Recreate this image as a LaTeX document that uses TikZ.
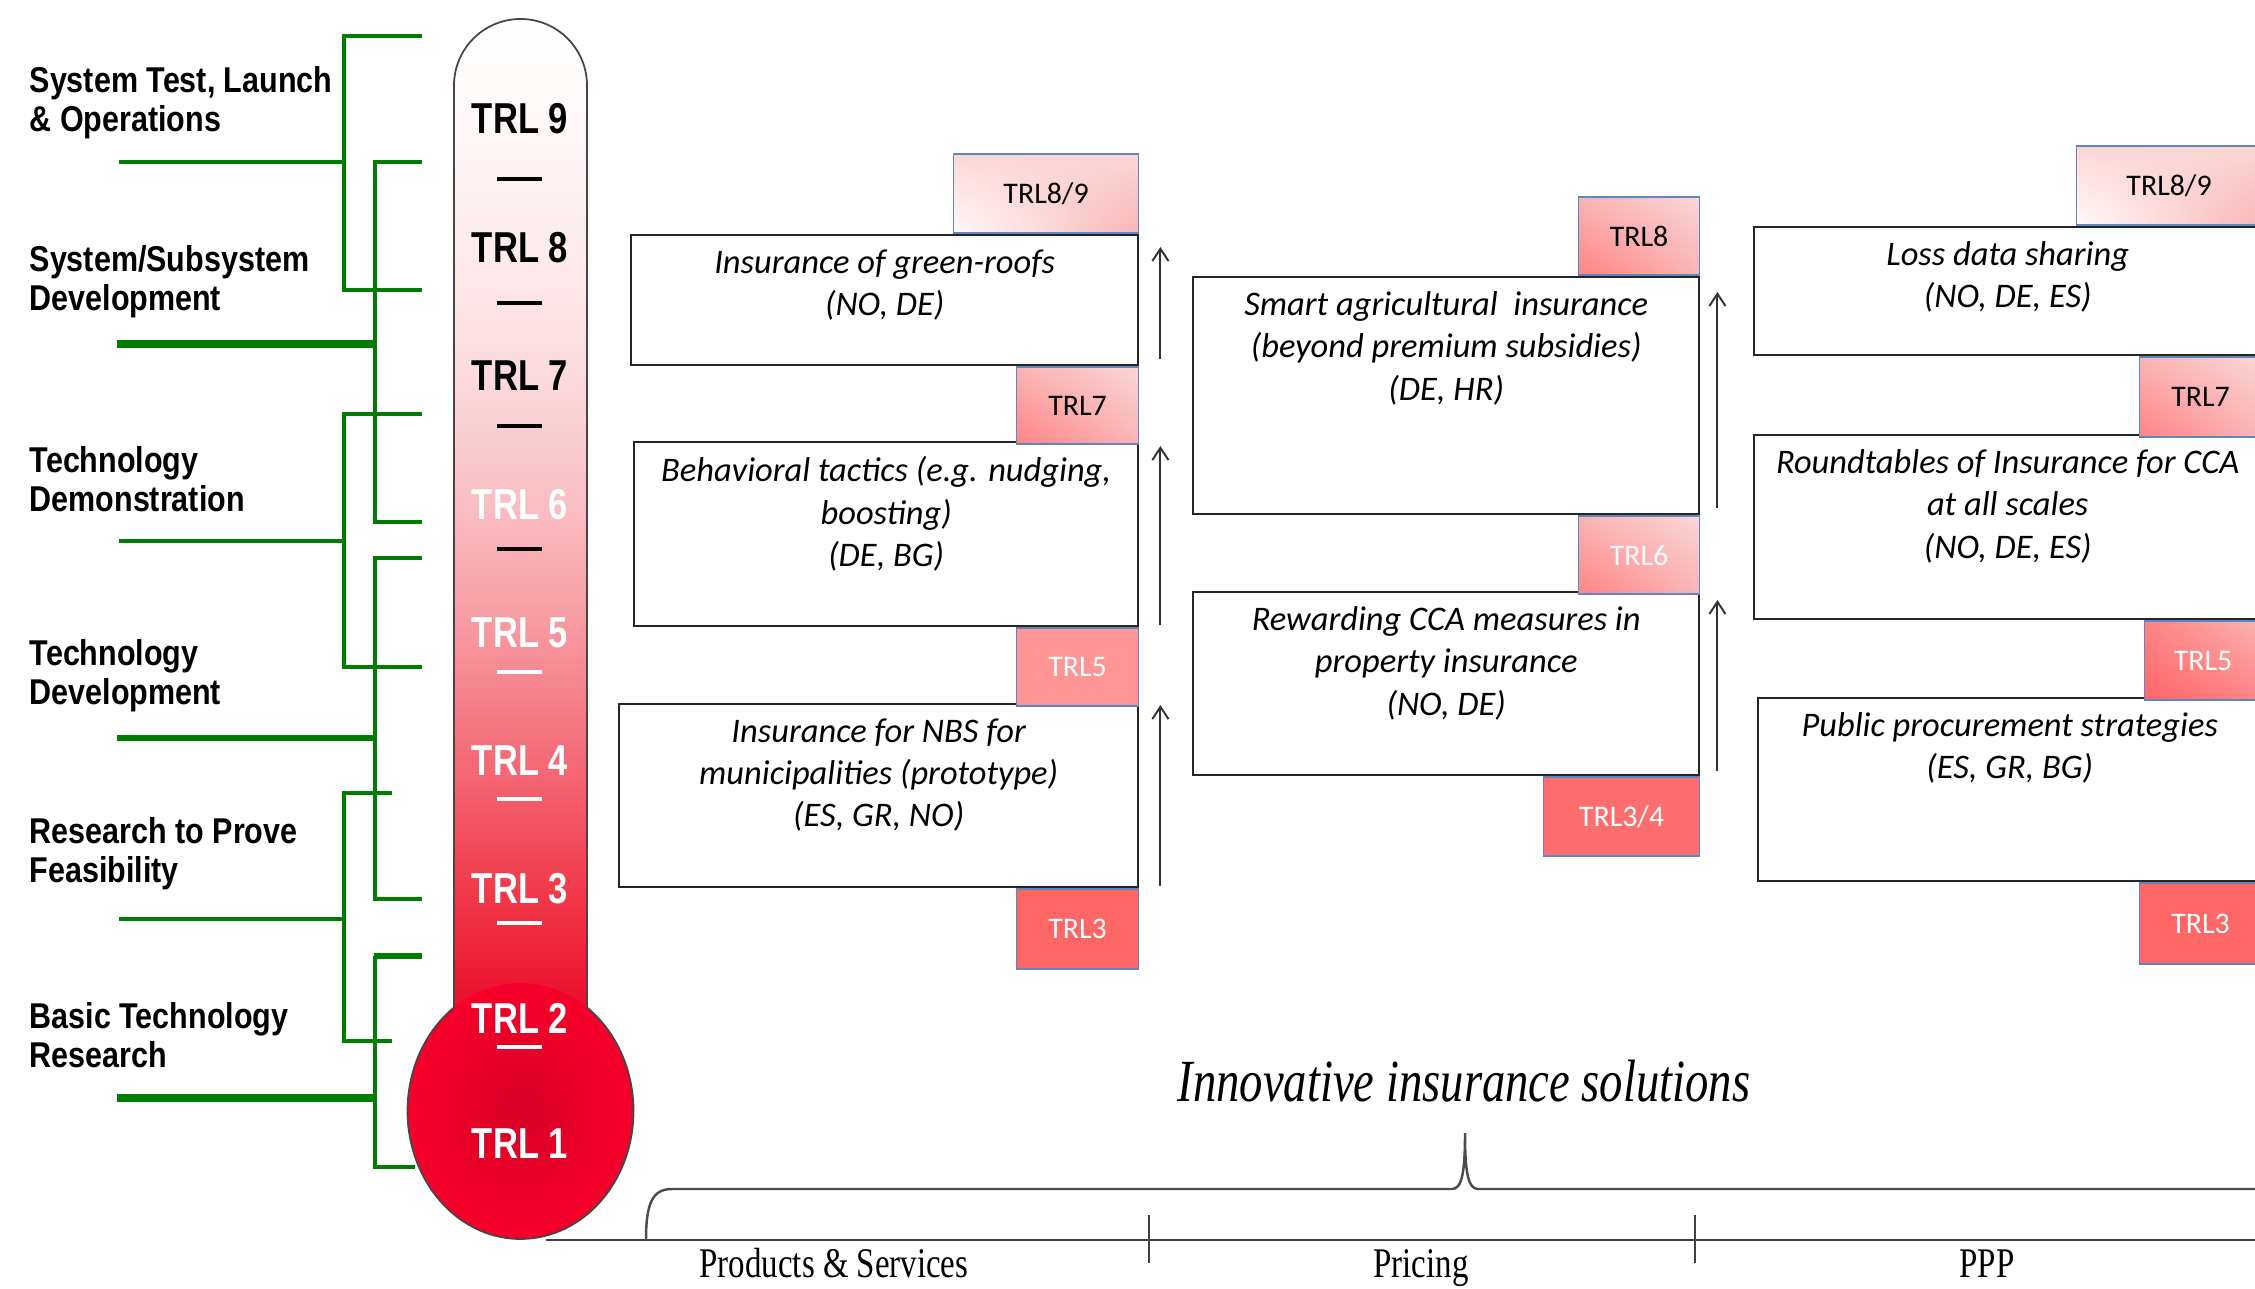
\documentclass[tikz,border=0pt]{standalone}
\usepackage{fontspec}
\usetikzlibrary{arrows.meta}
\usetikzlibrary{positioning}
\usetikzlibrary{shadings}

\newfontfamily\stagefont{Liberation Sans}[FakeStretch=0.85]
\newfontfamily\trlfont{Liberation Sans}[FakeStretch=0.8]
\newfontfamily\boxfont{Carlito}
\newfontfamily\axisfont{Liberation Serif}[FakeStretch=0.78]

\definecolor{trlgreen}{RGB}{0,125,0}
\definecolor{tagblue}{RGB}{95,135,190}
\definecolor{thermogray}{RGB}{70,70,70}
\definecolor{bulbin}{RGB}{216,0,36}
\definecolor{bulbout}{RGB}{246,0,42}
\definecolor{tubeA}{RGB}{234,14,42}
\definecolor{tubeB}{RGB}{238,32,54}
\definecolor{tubeC}{RGB}{240,58,74}
\definecolor{tubeD}{RGB}{244,106,118}
\definecolor{tubeE}{RGB}{247,151,159}
\definecolor{tubeF}{RGB}{249,190,195}
\definecolor{tubeG}{RGB}{251,218,221}
\definecolor{tubeH}{RGB}{253,236,238}
\definecolor{tubeI}{RGB}{255,248,248}
\definecolor{tagwhite}{RGB}{255,250,250}
\definecolor{tagpale}{RGB}{252,214,214}
\definecolor{tagpink}{RGB}{249,180,182}
\definecolor{tagrose}{RGB}{255,132,132}
\definecolor{tagmid}{RGB}{255,149,149}
\definecolor{tagred}{RGB}{255,102,102}
\definecolor{tagredB}{RGB}{255,110,110}

\pgfdeclareverticalshading{tubeshade}{100bp}{color(0bp)=(tubeA); color(25bp)=(tubeA);
  color(27.5bp)=(tubeB); color(31bp)=(tubeC); color(37.5bp)=(tubeD); color(44bp)=(tubeE);
  color(50.5bp)=(tubeF); color(57bp)=(tubeG); color(63.5bp)=(tubeH); color(70bp)=(tubeI);
  color(75bp)=(white); color(100bp)=(white)}

\begin{document}
\begin{tikzpicture}[x=0.01cm, y=-0.01cm,
    every node/.style={inner sep=0pt},
    stage/.style={font=\stagefont\bfseries\fontsize{10.2}{11.1}\selectfont, align=left, anchor=west},
    trl/.style={font=\trlfont\bfseries\fontsize{12.3}{14}\selectfont},
    dashmark/.style={line width=1.1pt},
    bracket/.style={trlgreen, line width=1.2pt},
    thickbracket/.style={trlgreen, line width=2.1pt},
    prodbox/.style={draw=black!85, line width=0.6pt, anchor=north west},
    boxtext/.style={font=\boxfont\itshape\fontsize{9.8}{12}\selectfont, align=center},
    tag/.style={draw=tagblue, line width=0.45pt, font=\boxfont\fontsize{8.5}{10}\selectfont},
    uparrow/.style={black!80, line width=0.55pt, -{Straight Barb[length=3.5pt, width=4.6pt]}},
    axisline/.style={black!75, line width=0.6pt},
    axislabel/.style={font=\axisfont\fontsize{12}{14}\selectfont, anchor=base}]

  \useasboundingbox (0,0) rectangle (2255,1289);
  \clip (0,0) rectangle (2255,1289);

  % thermometer
  \shade[shading=tubeshade] (454,1010) -- (454,85.5) arc[start angle=180, end angle=360, radius=66.5] -- (587,1010) -- cycle;
  \shade[inner color=bulbin, outer color=bulbout] (520.5,1111) ellipse[x radius=113, y radius=128];
  \draw[thermogray, line width=0.5pt] (454,1007.5) -- (454,85.5) arc[start angle=180, end angle=360, radius=66.5]
    -- (587,1007.5) arc[start angle=-53.95, end angle=233.95, x radius=113, y radius=128];

  \foreach \n/\y/\c in {9/119/black, 8/248/black, 7/376/black, 6/505/white, 5/633/white,
                        4/761/white, 3/889/white, 2/1018/white, 1/1144/white}
    \node[trl, text=\c] (trl\n) at (520,\y) {TRL \n};
  \foreach \y/\c in {179/black, 303/black, 426/black, 549/black, 672/white, 799/white, 923/white, 1047/white}
    \draw[dashmark, \c] (497,\y) -- (542,\y);

  % green brackets
  \draw[bracket] (422,36) -- (344,36) -- (344,290) -- (422,290);
  \draw[bracket] (119,162) -- (344,162);
  \draw[bracket] (422,162) -- (375,162) -- (375,522) -- (422,522);
  \draw[thickbracket] (117,344) -- (375,344);
  \draw[bracket] (422,414) -- (344,414) -- (344,667) -- (422,667);
  \draw[bracket] (119,541) -- (344,541);
  \draw[bracket] (422,558) -- (375,558) -- (375,899) -- (422,899);
  \draw[bracket, line width=1.6pt] (117,738) -- (375,738);
  \draw[bracket] (392,793) -- (344,793) -- (344,1041) -- (392,1041);
  \draw[bracket] (119,919) -- (344,919);
  \draw[bracket] (375,956) -- (375,1167) -- (415,1167);
  \draw[bracket, line width=1.7pt] (374,956) -- (422,956);
  \draw[thickbracket] (117,1098) -- (375,1098);

  \node[stage] (st9) at (29,103) {System Test, Launch\\\& Operations};
  \node[stage] (st8) at (29,282) {System/Subsystem\\Development};
  \node[stage] (st6) at (29,479) {Technology\\Demonstration};
  \node[stage] (st4) at (29,676) {Technology\\Development};
  \node[stage] (st3) at (29,854) {Research to Prove\\Feasibility};
  \node[stage] (st1) at (29,1035) {Basic Technology\\Research};

  % products & services
  \node[prodbox, minimum width=5.07cm, minimum height=1.30cm] (b1) at (630,234) {};
  \node[prodbox, minimum width=5.04cm, minimum height=1.84cm] (b2) at (633,441) {};
  \node[prodbox, minimum width=5.19cm, minimum height=1.83cm] (b3) at (618,703) {};
  \node[boxtext, below=0.15cm of b1.north] (b1t) {Insurance of green-roofs\\(NO, DE)};
  \node[boxtext, below=0.15cm of b2.north] (b2t) {Behavioral tactics (e.g. nudging,\\boosting)\\(DE, BG)};
  \node[boxtext, below=0.15cm of b3.north] (b3t) {Insurance for NBS for\\municipalities (prototype)\\(ES, GR, NO)};
  \node[tag, anchor=south east, minimum width=1.85cm, minimum height=0.79cm,
        lower left=tagwhite, upper left=tagpale, lower right=tagpink, upper right=tagpale] (c1t9) at (b1.north east) {TRL8/9};
  \node[tag, anchor=north east, minimum width=1.22cm, minimum height=0.77cm,
        lower left=tagrose, upper left=tagpink, lower right=tagpink, upper right=tagpale] (c1t7) at (b1.south east) {TRL7};
  \node[tag, anchor=north east, minimum width=1.22cm, minimum height=0.78cm, fill=tagmid, text=white] (c1t5) at (b2.south east) {TRL5};
  \node[tag, anchor=north east, minimum width=1.22cm, minimum height=0.80cm, fill=tagred, text=white] (c1t3) at (b3.south east) {TRL3};
  \draw[uparrow] ([shift={(21,-7)}]b1.south east) -- ([shift={(21,13)}]b1.north east);
  \draw[uparrow] ([shift={(21,-2)}]b2.south east) -- ([shift={(21,5)}]b2.north east);
  \draw[uparrow] ([shift={(21,-2)}]b3.south east) -- ([shift={(21,2)}]b3.north east);

  % pricing
  \node[prodbox, minimum width=5.06cm, minimum height=2.37cm] (b4) at (1192,276) {};
  \node[prodbox, minimum width=5.06cm, minimum height=1.83cm] (b5) at (1192,591) {};
  \node[boxtext, below=0.15cm of b4.north] (b4t) {Smart agricultural\ \ insurance\\(beyond premium subsidies)\\(DE, HR)};
  \node[boxtext, below=0.15cm of b5.north] (b5t) {Rewarding CCA measures in\\property insurance\\(NO, DE)};
  \node[tag, anchor=south east, minimum width=1.21cm, minimum height=0.78cm,
        lower left=tagrose, upper left=tagpink, lower right=tagpink, upper right=tagpale] (c2t8) at (b4.north east) {TRL8};
  \node[tag, anchor=north east, minimum width=1.21cm, minimum height=0.78cm, text=tagwhite,
        lower left=tagrose, upper left=tagpink, lower right=tagpink, upper right=tagpale] (c2t6) at (b4.south east) {TRL6};
  \node[tag, anchor=north east, minimum width=1.56cm, minimum height=0.79cm, fill=tagredB, text=white] (c2t34) at (b5.south east) {TRL3/4};
  \draw[uparrow] ([shift={(17,-7)}]b4.south east) -- ([shift={(17,16)}]b4.north east);
  \draw[uparrow] ([shift={(17,-5)}]b5.south east) -- ([shift={(17,9)}]b5.north east);

  % PPP
  \node[prodbox, minimum width=5.07cm, minimum height=1.28cm] (b6) at (1753,226) {};
  \node[prodbox, minimum width=5.07cm, minimum height=1.84cm] (b7) at (1753,434) {};
  \node[prodbox, minimum width=5.03cm, minimum height=1.83cm] (b8) at (1757,697) {};
  \node[boxtext, below=0.15cm of b6.north] (b6t) {Loss data sharing\\(NO, DE, ES)};
  \node[boxtext, below=0.15cm of b7.north] (b7t) {Roundtables of Insurance for CCA\\at all scales\\(NO, DE, ES)};
  \node[boxtext, below=0.15cm of b8.north] (b8t) {Public procurement strategies\\(ES, GR, BG)};
  \node[tag, anchor=south east, minimum width=1.85cm, minimum height=0.79cm,
        lower left=tagwhite, upper left=tagpale, lower right=tagpink, upper right=tagpale] (c3t9) at (b6.north east) {TRL8/9};
  \node[tag, anchor=north east, minimum width=1.22cm, minimum height=0.80cm,
        lower left=tagrose, upper left=tagpink, lower right=tagpink, upper right=tagpale] (c3t7) at (b6.south east) {TRL7};
  \node[tag, anchor=north east, minimum width=1.17cm, minimum height=0.79cm, text=white,
        lower left=tagred, upper left=tagrose, lower right=tagrose, upper right=tagpink] (c3t5) at (b7.south east) {TRL5};
  \node[tag, anchor=north east, minimum width=1.22cm, minimum height=0.81cm, fill=tagred, text=white] (c3t3) at (b8.south east) {TRL3};

  % axis and brace
  \draw[axisline] (546,1240) -- (2260,1240);
  \draw[axisline] (1149,1215) -- (1149,1263);
  \draw[axisline] (1695,1215) -- (1695,1263);
  \draw[axisline, black!70, line width=0.7pt] (646,1240) .. controls (646,1204) and (652,1189) .. (672,1189)
    -- (1452,1189) .. controls (1462,1189) and (1465,1172) .. (1465,1133)
    .. controls (1465,1172) and (1468,1189) .. (1478,1189) -- (2260,1189);
  \node[font=\axisfont\itshape\fontsize{17}{20}\selectfont] (title) at (1464,1081) {Innovative insurance solutions};
  \node[axislabel] (prod) at (834,1277) {Products \& Services};
  \node[axislabel] (pric) at (1421,1277) {Pricing};
  \node[axislabel] (ppp) at (1987,1277) {PPP};
\end{tikzpicture}
\end{document}
